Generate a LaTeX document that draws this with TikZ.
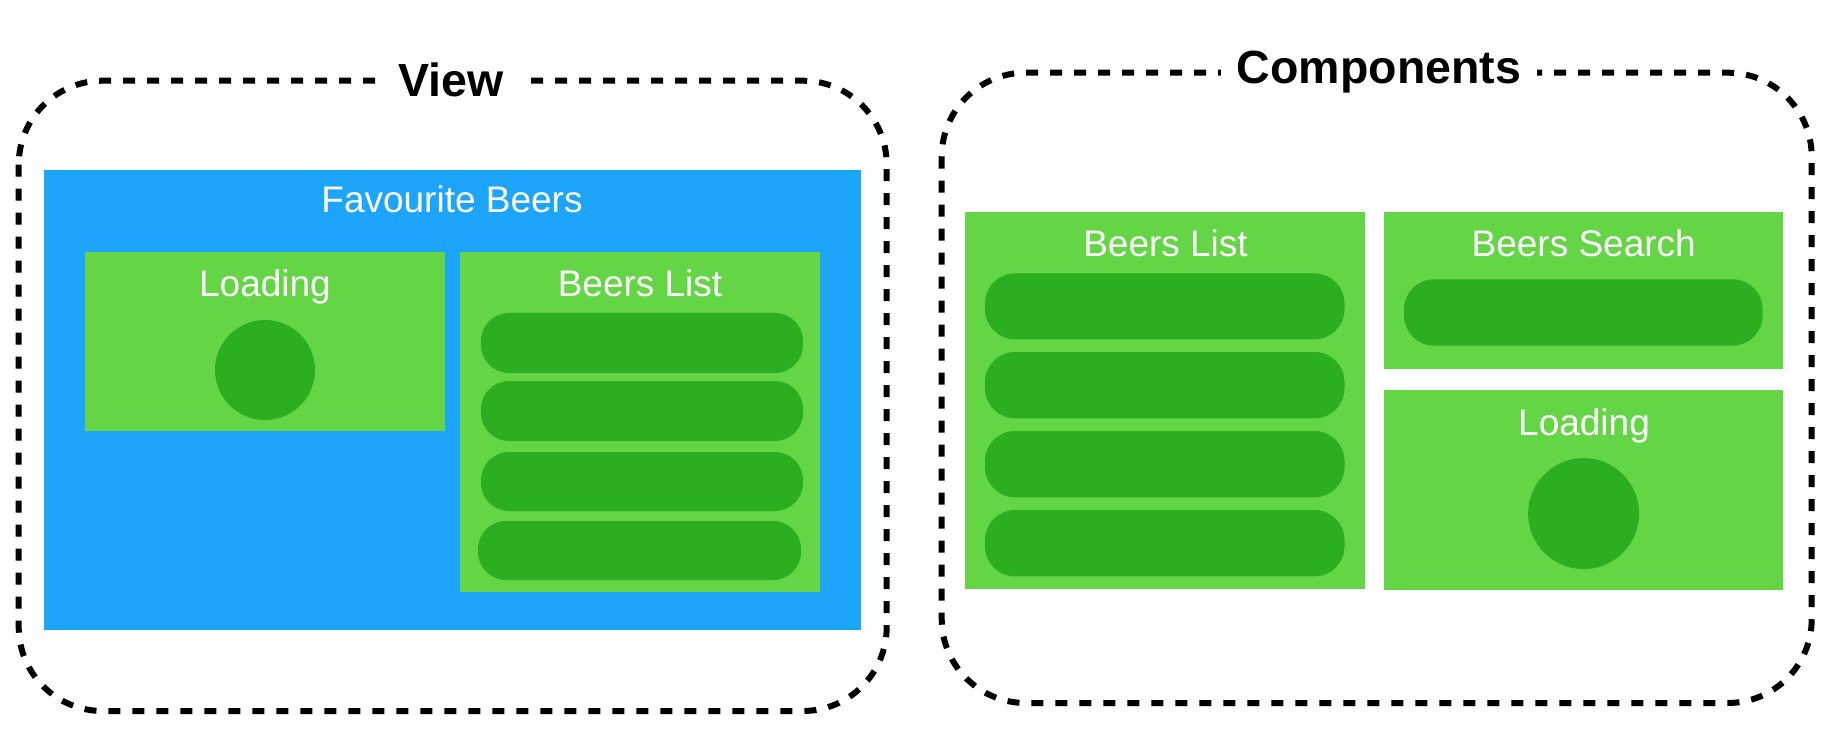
\documentclass[tikz,border=0pt]{standalone}
\usepackage{fontspec}
\setmainfont{Liberation Sans}
\definecolor{vblue}{RGB}{29,165,252}
\definecolor{lgreen}{RGB}{100,214,70}
\definecolor{dgreen}{RGB}{43,174,32}
\begin{document}
\begin{tikzpicture}[x=0.5pt,y=-0.5pt,
  frame/.style={draw=black,line width=3pt,dash pattern=on 6pt off 6pt,rounded corners=42pt},
  titletext/.style={fill=white,font=\bfseries\fontsize{23.25pt}{28pt}\selectfont,inner xsep=8pt,inner ysep=2pt,anchor=base},
  lbl/.style={text=white,font=\fontsize{18.5pt}{22pt}\selectfont,anchor=base,inner sep=0pt},
  panel/.style={fill=lgreen},
  pillA/.style={fill=dgreen,rounded corners=14pt},
  pillB/.style={fill=dgreen,rounded corners=15pt}]
\useasboundingbox (0,0) rectangle (1834,748);
% ---------- View ----------
\draw[frame] (18.7,80.7) rectangle (886.7,711);
\node[titletext] (viewT) at (451,96.7) {View};
\fill[vblue] (44,170) rectangle (861,630);
\node[lbl] (favT) at (452,213) {Favourite Beers};
\fill[panel] (85,252) rectangle (445,431);
\node[lbl] (loadT1) at (265,297) {Loading};
\fill[dgreen] (265,370) circle (25pt);
\fill[panel] (460,252) rectangle (820,592);
\node[lbl] (listT1) at (640,297) {Beers List};
\fill[pillA] (481,313) rectangle (803,373);
\fill[pillA] (481,381) rectangle (803,441);
\fill[pillA] (481,452) rectangle (803,511);
\fill[pillA] (478,521) rectangle (801,580);
% ---------- Components ----------
\draw[frame] (941.7,72.7) rectangle (1811.7,703);
\node[titletext] (compT) at (1379,83.3) {Components};
\fill[panel] (965,212) rectangle (1365,589);
\node[lbl] (listT2) at (1165.5,256.7) {Beers List};
\fill[pillB] (985,273.4) rectangle (1344.5,339.3);
\fill[pillB] (985,352) rectangle (1344.5,418.3);
\fill[pillB] (985,431) rectangle (1344.5,497.3);
\fill[pillB] (985,510) rectangle (1344.5,576.4);
\fill[panel] (1384,212) rectangle (1783,369);
\node[lbl] (searchT) at (1583.7,256.7) {Beers Search};
\fill[pillB] (1404,279.3) rectangle (1762.6,345.6);
\fill[panel] (1384,390) rectangle (1783,590);
\node[lbl] (loadT2) at (1584,435) {Loading};
\fill[dgreen] (1583.6,513.6) circle (27.75pt);
\end{tikzpicture}
\end{document}
